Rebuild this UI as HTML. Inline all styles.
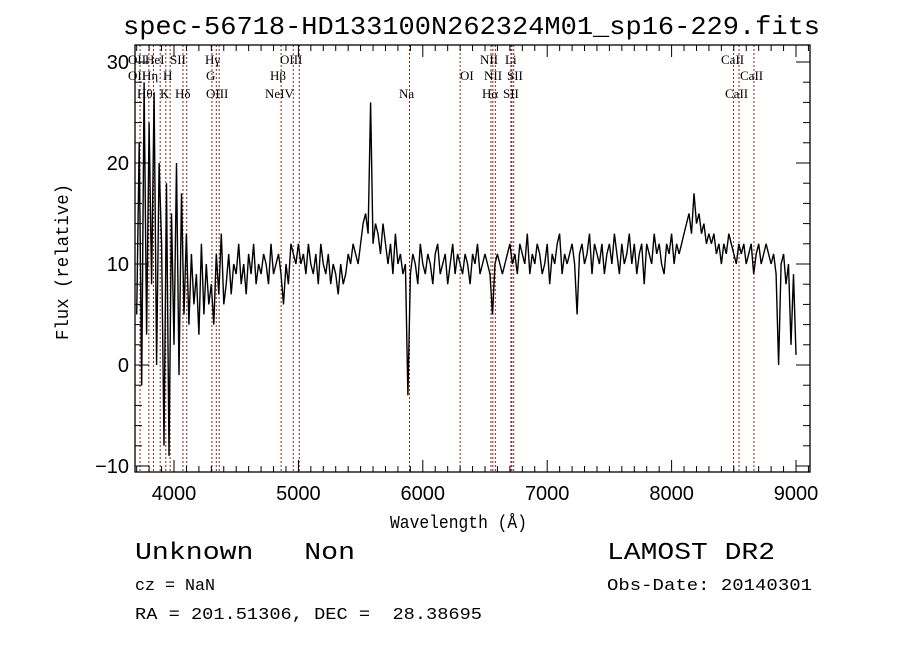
<!DOCTYPE html>
<html><head><meta charset="utf-8"><style>
body{margin:0;background:#fff;}
svg{display:block;}
text{white-space:pre;}
.m{font-family:"Liberation Mono","DejaVu Sans Mono",monospace;fill:#000;}
.s{font-family:"Liberation Serif",serif;font-size:13px;fill:#000;}
.t{font-family:"Liberation Sans","DejaVu Sans",sans-serif;font-size:20px;fill:#000;}
</style></head><body>
<svg id="chart" width="900" height="649" viewBox="0 0 900 649" xml:space="preserve">
<text class="m" x="123" y="34" font-size="26" textLength="697" lengthAdjust="spacingAndGlyphs">spec-56718-HD133100N262324M01_sp16-229.fits</text>
<g id="lines"></g>
<g id="ticks"></g>
<path id="spec" fill="none" stroke="#000" stroke-width="1.4" stroke-linejoin="bevel"></path>
<rect x="135" y="45" width="675" height="427" fill="none" stroke="#000" stroke-width="1.3"></rect>
<g id="labels"></g>
<text class="m" x="390" y="528" font-size="18" textLength="137" lengthAdjust="spacingAndGlyphs">Wavelength (Å)</text>
<text class="m" transform="translate(68,340) rotate(-90)" font-size="18" textLength="156" lengthAdjust="spacingAndGlyphs">Flux (relative)</text>
<text class="m" x="135" y="559" font-size="24" textLength="220" lengthAdjust="spacingAndGlyphs">Unknown   Non</text>
<text class="m" x="607" y="559" font-size="24" textLength="168" lengthAdjust="spacingAndGlyphs">LAMOST DR2</text>
<text class="m" x="135" y="590" font-size="17" textLength="80" lengthAdjust="spacingAndGlyphs">cz = NaN</text>
<text class="m" x="607" y="590" font-size="17" textLength="205" lengthAdjust="spacingAndGlyphs">Obs-Date: 20140301</text>
<text class="m" x="135" y="619" font-size="17" textLength="347" lengthAdjust="spacingAndGlyphs">RA = 201.51306, DEC =  28.38695</text>
</svg>
<script>
const wlStart = 3700;
const wlStep = 20;
const flux = [5,22,-2,28,3,24,8,27,0,20,12,
-8,18,-9,15,2,20,-1,17,5,13,
4,11,6,9,3,12,5,10,6,8,4,11,7,13,6,
8,11,7,10,9,12,8,10,7,11,9,12,8,10,9,11,10,8,12,9,10,11,9,6,10,8,12,11,10,12,
10,11,9,12,10,9,11,8,12,10,9,11,8,10,9,7,10,8,9,11,10,12,11,10,12,
14,15,13,26,12,14,13,11,14,12,
10,12,9,13,10,11,9,10,-3,9,
11,10,8,12,10,9,11,10,8,11,12,9,10,11,8,10,12,9,11,10,9,11,10,8,11,10,12,9,10,11,
10,9,5,10,11,10,9,10,11,12,10,11,9,12,11,10,13,9,11,10,12,11,9,10,12,8,11,10,12,13,9,11,10,11,12,
10,5,11,12,10,11,13,9,12,11,10,12,9,11,12,10,13,11,9,12,10,11,13,10,12,9,11,12,8,12,11,10,13,11,12,10,9,12,11,13,10,12,11,12,13,
14,15,13,17,14,15,13,14,12,13,
12,13,11,12,10,12,11,13,12,11,10,12,11,12,10,11,12,9,11,12,10,11,12,11,10,
11,9,0,10,11,8,10,2,9,1];
const xTicks = [4000,5000,6000,7000,8000,9000];
const yTicks = [-10,0,10,20,30];
const lineWl = [3727,3798,3835,3889,3934,3969,4072,4102,4305,4340,4363,4861,4959,5007,5893,6300,6548,6563,6583,6708,6716,6731,8498,8542,8662];
const lineLabels = [["OII",128,64],["HeI",145,64],["SII",170,64],["Hγ",205,64],["OIII",280,64],["NII",480,64],["Li",505,64],["CaII",721,64],
["OII",128,80],["Hη",142,80],["H",163,80],["G",206,80],["Hβ",270,80],["OI",460,80],["NII",484,80],["SII",507,80],["CaII",740,80],
["Hθ",137,98],["K",160,98],["Hδ",175,98],["OIII",206,98],["NeIV",265,98],["Na",399,98],["Hα",482,98],["SII",503,98],["CaII",725,98]];
const NS="http://www.w3.org/2000/svg";
const X = w => 174 + (w-4000)*0.1244;
const Y = v => 365 - v*10.1;
const L=135,R=810,T=45,B=472;
function mk(tag,attrs,parent){const e=document.createElementNS(NS,tag);for(const k in attrs)e.setAttribute(k,attrs[k]);parent.appendChild(e);return e;}
const lg=document.getElementById('lines');
lineWl.forEach(w=>{const e=mk('line',{x1:X(w),x2:X(w),y1:T,y2:B,stroke:'#8b2020','stroke-width':1,'stroke-dasharray':'2,2'},lg);

});
let d='';flux.forEach((v,i)=>{d+=(i?'L':'M')+X(wlStart+i*wlStep).toFixed(1)+','+Y(v).toFixed(1);});
document.getElementById('spec').setAttribute('d',d);
const tg=document.getElementById('ticks');
const svg=document.getElementById('chart');
for(let w=3700;w<=9100;w+=100){const maj=w%1000===0;const x=X(w);if(x<L||x>R)continue;const len=maj?12:6;
mk('line',{x1:x,x2:x,y1:B,y2:B-len,stroke:'#000'},tg);mk('line',{x1:x,x2:x,y1:T,y2:T+len,stroke:'#000'},tg);}
xTicks.forEach(w=>{const t=mk('text',{x:X(w),y:500,'text-anchor':'middle',class:'t'},svg);t.textContent=w;

});
for(let v=-10;v<=30;v+=2){const y=Y(v);const maj=v%10===0;const len=maj?14:7;
mk('line',{x1:L,x2:L+len,y1:y,y2:y,stroke:'#000'},tg);mk('line',{x1:R,x2:R-len,y1:y,y2:y,stroke:'#000'},tg);}
yTicks.forEach(v=>{const t=mk('text',{x:129,y:Y(v)+7,'text-anchor':'end',class:'t'},svg);t.textContent=(v<0?'−':'')+Math.abs(v);

});
const lb=document.getElementById('labels');
lineLabels.forEach(a=>{const t=mk('text',{x:a[1],y:a[2],class:'s'},lb);t.textContent=a[0];

});
</script>
</body></html>
